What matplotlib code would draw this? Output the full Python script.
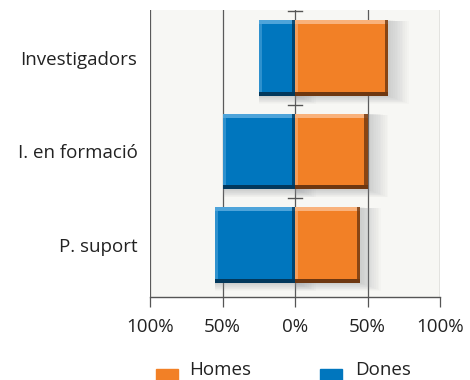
import matplotlib
matplotlib.use("Agg")
import matplotlib.pyplot as plt
from matplotlib.patches import Rectangle

plt.rcParams["font.family"] = ["Open Sans", "DejaVu Sans"]

categories = ["Investigadors", "I. en formació", "P. suport"]
homes = [64, 50, 45]
dones = [25, 50, 55]
x_ticks = [-100, -50, 0, 50, 100]
x_labels = ["100%", "50%", "0%", "50%", "100%"]
legend_labels = ["Homes", "Dones"]

ORANGE = "#f28026"
ORANGE_LIGHT = "#f9b27c"
ORANGE_DARK = "#6e3710"
BLUE = "#0076be"
BLUE_LIGHT = "#4ea4da"
BLUE_DARK = "#02385c"
TEXT = "#222222"
FS = 13.5

BAR_H = 0.81
EDGE_Y = 0.045
EDGE_X = 2.2


def bevel_bar(ax, y, left, width, color, light, dark):
    # soft shadow spreading to the right
    for k in range(1, 13):
        ax.barh(y + 0.004 * k, width + 1.2 * k, left=left,
                height=BAR_H + 0.006 * k, color="#8a8f96", alpha=0.035,
                linewidth=0, zorder=2)
    ax.barh(y, width, left=left, height=BAR_H, color=color,
            linewidth=0, zorder=3)
    # lit top and left edges, dark bottom and right edges
    ax.barh(y - BAR_H / 2 + EDGE_Y / 2, width, left=left, height=EDGE_Y,
            color=light, linewidth=0, zorder=4)
    ax.barh(y, EDGE_X, left=left, height=BAR_H, color=light, alpha=0.6,
            linewidth=0, zorder=4)
    ax.barh(y, EDGE_X, left=left + width - EDGE_X, height=BAR_H,
            color=dark, alpha=0.8, linewidth=0, zorder=5)
    ax.barh(y + BAR_H / 2 - EDGE_Y / 2, width, left=left, height=EDGE_Y,
            color=dark, linewidth=0, zorder=5)


fig = plt.figure(figsize=(4.7, 3.8), dpi=100)
ax = fig.add_axes([150 / 470, 1 - 297 / 380, 290 / 470, 287 / 380])
ax.set_facecolor("#f7f7f4")

for i, cat in enumerate(categories):
    bevel_bar(ax, i, 0, homes[i], ORANGE, ORANGE_LIGHT, ORANGE_DARK)
    bevel_bar(ax, i, -dones[i], dones[i], BLUE, BLUE_LIGHT, BLUE_DARK)

for x in x_ticks:
    ax.axvline(x, color="#5a5a5a", linewidth=0.9, zorder=1)

# small caps on the centre line between rows
for yc in [-0.5, 0.5, 1.5]:
    ax.plot([-5, 5], [yc, yc], color="#555555", linewidth=1.0,
            zorder=6, clip_on=False)

ax.set_xlim(-100, 100)
ax.set_ylim(2.556, -0.513)
ax.set_xticks(x_ticks)
ax.set_xticklabels(x_labels, fontsize=FS, color=TEXT)
ax.set_yticks(range(len(categories)))
ax.set_yticklabels(categories, fontsize=FS, color=TEXT)
ax.tick_params(axis="y", length=0, pad=9)
ax.tick_params(axis="x", length=7, width=0.9, color="#555555", pad=8)

for side in ["top", "left", "right"]:
    ax.spines[side].set_visible(False)
ax.spines["bottom"].set_color("#555555")
ax.spines["bottom"].set_linewidth(1.0)

# legend squares below the axis
for label, color, xs, xt in [(legend_labels[0], ORANGE, 156, 189),
                             (legend_labels[1], BLUE, 320, 355)]:
    fig.add_artist(Rectangle((xs / 470, 1 - 391 / 380), 22 / 470, 22 / 380,
                             transform=fig.transFigure, color=color,
                             clip_on=False))
    fig.text(xt / 470, 1 - 370 / 380, label, fontsize=FS, color=TEXT,
             ha="left", va="center")

fig.savefig("out.png", dpi=100)
